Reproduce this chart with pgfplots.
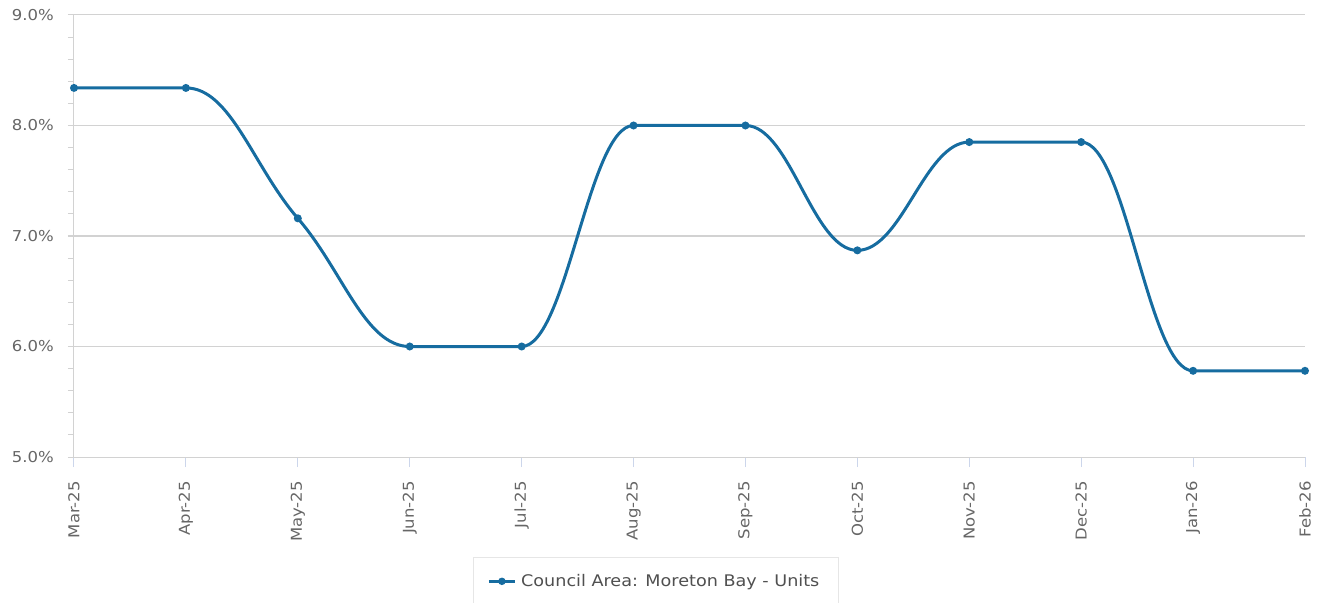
\documentclass[border=0pt]{standalone}
\usepackage{fontspec}
\setmainfont{DejaVu Sans}[FakeStretch=1.1]
\usepackage{pgfplots}
\pgfplotsset{compat=1.18}
\definecolor{hcblue}{RGB}{22,108,160}
\definecolor{txtgray}{RGB}{102,102,102}
\definecolor{gridgray}{RGB}{210,210,210}
\definecolor{tickblue}{RGB}{204,214,235}
\definecolor{leggray}{RGB}{80,80,80}
\makeatletter
\newdimen\hc@ax \newdimen\hc@ay
\newdimen\hc@bx \newdimen\hc@by
\newdimen\hc@cx \newdimen\hc@cy
\newdimen\hc@rx \newdimen\hc@ry
\newcount\hc@n
\def\hc@computeB{%
  \pgfmathsetmacro\hc@lx{(1.5*\the\hc@bx+\the\hc@ax)/2.5}%
  \pgfmathsetmacro\hc@ly{(1.5*\the\hc@by+\the\hc@ay)/2.5}%
  \pgfmathsetmacro\hc@rxx{(1.5*\the\hc@bx+\the\hc@cx)/2.5}%
  \pgfmathsetmacro\hc@ryy{(1.5*\the\hc@by+\the\hc@cy)/2.5}%
  \pgfmathsetmacro\hc@corr{(\hc@ryy-\hc@ly)*(\hc@rxx-\the\hc@bx)/(\hc@rxx-\hc@lx)+\the\hc@by-\hc@ryy}%
  \pgfmathsetmacro\hc@ly{\hc@ly+\hc@corr}%
  \pgfmathsetmacro\hc@ryy{\hc@ryy+\hc@corr}%
  \ifdim\hc@ly pt>\hc@ay\relax\ifdim\hc@ly pt>\hc@by\relax
    \pgfmathsetmacro\hc@ly{max(\the\hc@ay,\the\hc@by)}%
    \pgfmathsetmacro\hc@ryy{2*\the\hc@by-\hc@ly}%
  \fi\fi
  \ifdim\hc@ly pt<\hc@ay\relax\ifdim\hc@ly pt<\hc@by\relax
    \pgfmathsetmacro\hc@ly{min(\the\hc@ay,\the\hc@by)}%
    \pgfmathsetmacro\hc@ryy{2*\the\hc@by-\hc@ly}%
  \fi\fi
  \ifdim\hc@ryy pt>\hc@cy\relax\ifdim\hc@ryy pt>\hc@by\relax
    \pgfmathsetmacro\hc@ryy{max(\the\hc@cy,\the\hc@by)}%
    \pgfmathsetmacro\hc@ly{2*\the\hc@by-\hc@ryy}%
  \fi\fi
  \ifdim\hc@ryy pt<\hc@cy\relax\ifdim\hc@ryy pt<\hc@by\relax
    \pgfmathsetmacro\hc@ryy{min(\the\hc@cy,\the\hc@by)}%
    \pgfmathsetmacro\hc@ly{2*\the\hc@by-\hc@ryy}%
  \fi\fi
}
\def\hc@point#1{%
  \pgf@process{#1}%
  \global\hc@cx=\pgf@x \global\hc@cy=\pgf@y
  \ifnum\hc@n=0
    \pgfpathmoveto{\pgfqpoint{\hc@cx}{\hc@cy}}%
    \global\hc@rx=\hc@cx \global\hc@ry=\hc@cy
  \else\ifnum\hc@n>1
    \hc@computeB
    \pgfpathcurveto{\pgfqpoint{\hc@rx}{\hc@ry}}{\pgfqpoint{\hc@lx pt}{\hc@ly pt}}{\pgfqpoint{\hc@bx}{\hc@by}}%
    \global\hc@rx=\hc@rxx pt \global\hc@ry=\hc@ryy pt
  \fi\fi
  \global\hc@ax=\hc@bx \global\hc@ay=\hc@by
  \global\hc@bx=\hc@cx \global\hc@by=\hc@cy
  \global\advance\hc@n by 1
}
\def\hc@start{\global\hc@n=0\relax}
\def\hc@end{%
  \ifnum\hc@n>1
    \pgfpathcurveto{\pgfqpoint{\hc@rx}{\hc@ry}}{\pgfqpoint{\hc@bx}{\hc@by}}{\pgfqpoint{\hc@bx}{\hc@by}}%
  \fi}
\pgfdeclareplothandler{\pgfplothandlerhcspline}{}{%
  start macro=\hc@start,
  point macro=\hc@point,
  end macro=\hc@end,
}
\tikzset{hc spline/.code={\let\tikz@plot@handler=\pgfplothandlerhcspline}}
\makeatother
\begin{document}
\begin{tikzpicture}
\useasboundingbox (-74pt,-145pt) rectangle (1250pt,457pt);
\begin{axis}[
  name=ax, at={(0,0)}, anchor=south west,
  scale only axis, width=1231pt, height=442pt,
  xmin=0, xmax=11, ymin=5, ymax=9,
  xtick={0,1,2,3,4,5,6,7,8,9,10,11},
  xticklabels={Mar-25,Apr-25,May-25,Jun-25,Jul-25,Aug-25,Sep-25,Oct-25,Nov-25,Dec-25,Jan-26,Feb-26},
  ytick={5,6,7,8,9}, minor y tick num=4,
  yticklabel={\pgfmathprintnumber[fixed,fixed zerofill,precision=1]{\tick}\%},
  /pgf/number format/assume math mode=true,
  axis x line*=bottom, axis y line*=left,
  axis line style={draw=gridgray, line width=1pt, -},
  ymajorgrids, grid style={draw=gridgray, line width=1pt},
  tick align=outside,
  major tick length=6pt, minor tick length=6pt,
  xtick style={draw=tickblue, line width=1pt, /pgfplots/major tick length=10pt},
  ytick style={draw=gridgray, line width=1pt},
  minor tick style={draw=gridgray, line width=1pt},
  ticklabel style={font=\fontsize{15}{17}\selectfont, text=txtgray},
  xticklabel style={rotate=90, anchor=east, inner sep=0pt, xshift=-18pt},
  yticklabel style={anchor=east, inner sep=0pt, xshift=-14pt},
  legend style={at={(0.4728,0)}, anchor=north, yshift=-100pt,
    draw={rgb,255:red,230;green,230;blue,230}, line width=1pt,
    font=\fontsize{16}{19}\selectfont, text=leggray,
    inner xsep=14pt, inner ysep=15pt,
    nodes={inner xsep=5pt}},
  legend cell align=left,
  legend image code/.code={\draw[mark repeat=2,mark phase=2,#1,line width=2.5pt] plot coordinates {(0pt,0pt) (13pt,0pt) (26pt,0pt)};},
  clip=false,
]
\addplot[hc spline, color=hcblue, line width=3pt, mark=*, mark size=2.4pt, mark options={solid}]
  coordinates {(0,8.34) (1,8.34) (2,7.16) (3,6.00) (4,6.00) (5,8.00) (6,8.00) (7,6.87) (8,7.85) (9,7.85) (10,5.78) (11,5.78)};
\addlegendentry{Council Area: Moreton Bay - Units}
\end{axis}
\end{tikzpicture}
\end{document}
